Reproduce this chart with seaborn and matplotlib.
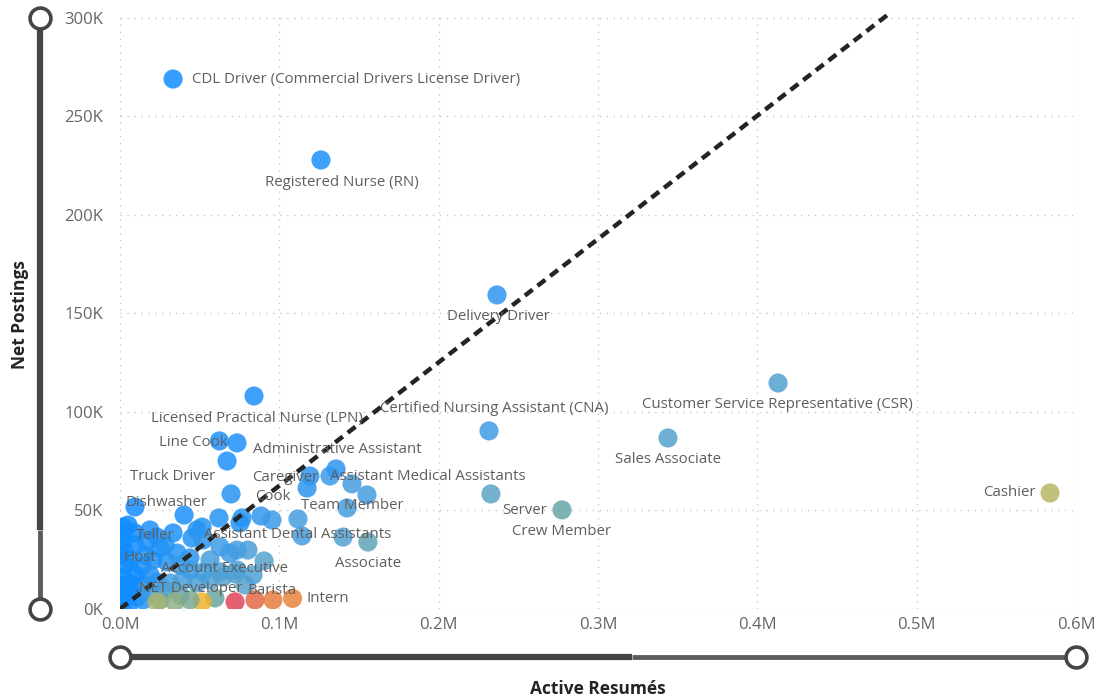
"""
Net postings vs active resumes per job title (Power BI style scatter).
"""
import numpy as np
import pandas as pd
import matplotlib.pyplot as plt
import seaborn as sns
from matplotlib.colors import LinearSegmentedColormap
from matplotlib.lines import Line2D
from matplotlib.ticker import FuncFormatter, MultipleLocator

# ---- labelled job titles (values in thousands) ----
titles = [
    "CDL Driver (Commercial Drivers License Driver)", "Registered Nurse (RN)",
    "Delivery Driver", "Customer Service Representative (CSR)",
    "Certified Nursing Assistant (CNA)", "Sales Associate", "Server",
    "Crew Member", "Cashier", "Licensed Practical Nurse (LPN)", "Line Cook",
    "Administrative Assistant", "Truck Driver", "Caregiver",
    "Assistant Medical Assistants", "Cook", "Team Member", "Dishwasher",
    "Teller", "Assistant Dental Assistants", "Associate", "Host",
    "Account Executive", ".NET Developer", "Barista", "Intern",
]
title_resumes_k = [
    33.3, 126.1, 236.6, 413.0, 231.6, 343.9, 232.8, 277.4, 583.7, 84.1, 73.4,
    135.6, 69.7, 119.2, 145.6, 117.4, 142.5, 9.4, 16.9, 114.2, 155.6, 1.9,
    83.5, 43.9, 96.0, 108.3,
]
title_postings_k = [
    269.0, 227.9, 159.4, 114.7, 90.4, 86.8, 58.4, 50.3, 58.9, 108.1, 84.3,
    71.1, 58.4, 67.5, 63.5, 61.4, 51.3, 51.8, 34.0, 37.1, 34.0, 29.9, 17.3,
    4.6, 4.6, 5.4,
]
title_score = [
    1.0, 0.97, 0.93, 0.77, 0.88, 0.76, 0.72, 0.62, 0.45, 0.97, 0.97, 0.93,
    0.95, 0.93, 0.85, 0.93, 0.85, 1.0, 0.97, 0.85, 0.68, 1.0, 0.8, 0.56,
    0.15, 0.17,
]

# ---- other (unlabelled) job titles ----
other_resumes_k = [
    62.4, 67.2, 131.8, 155.0, 40.2, 62.1, 76.6, 88.5, 95.4, 111.7, 51.5,
    140.0, 80.3, 90.4, 72.2, 75.3, 73.4, 73.4,
    1.9, 5.0, 1.9, 9.4, 23.2, 33.3, 48.3, 45.2, 52.1, 62.8, 69.0, 35.8, 43.9,
    29.5, 20.7, 13.8, 6.3, 1.9, 6.3, 14.4, 23.2, 31.4, 39.5, 48.3, 56.5,
    64.6, 52.1, 62.8, 43.9, 1.9, 10.7, 14.4, 1.9, 3.1, 9.4, 1.9, 5.0, 25.1,
    18.8, 28.2, 37.7, 0.4, 0.4, 1.3,
    5.0, 9.4, 15.7, 18.8, 28.2, 37.7, 25.1, 18.8, 56.5, 78.5, 59.6,
    23.2, 34.5, 51.5, 72.2, 84.7,
]
other_postings_k = [
    85.3, 75.1, 67.5, 57.9, 47.7, 46.2, 46.2, 47.2, 45.2, 45.7, 41.6, 36.5,
    29.9, 24.4, 17.8, 43.7, 29.9, 19.8,
    41.6, 42.6, 39.1, 38.6, 36.5, 38.6, 40.1, 36.0, 35.0, 31.5, 28.4, 28.4,
    25.9, 23.9, 24.9, 21.3, 24.9, 16.2, 13.2, 12.2, 13.7, 13.2, 14.7, 13.2,
    14.7, 16.2, 18.8, 18.8, 19.8, 4.6, 6.1, 4.6, 9.6, 22.3, 32.5, 35.0, 1.0,
    31.0, 17.3, 9.6, 7.1, 27.4, 12.2, 2.0,
    9.6, 17.3, 27.4, 40.1, 32.5, 22.3, 4.6, 8.6, 24.9, 12.2, 5.6,
    3.6, 3.6, 3.6, 3.6, 4.6,
]
other_score = [
    0.97, 0.97, 0.9, 0.85, 0.97, 0.95, 0.95, 0.92, 0.9, 0.85, 0.95, 0.78,
    0.82, 0.75, 0.8, 0.95, 0.85, 0.8,
    1.0, 1.0, 1.0, 1.0, 0.97, 0.97, 0.95, 0.95, 0.93, 0.9, 0.88, 0.95, 0.93,
    0.95, 0.97, 0.97, 1.0, 1.0, 1.0, 0.97, 0.9, 0.85, 0.82, 0.8, 0.78, 0.75,
    0.85, 0.8, 0.88, 1.0, 1.0, 0.95, 1.0, 1.0, 1.0, 1.0, 1.0, 0.97, 0.95,
    0.8, 0.7, 1.0, 1.0, 1.0,
    1.0, 1.0, 0.97, 0.97, 0.95, 0.9, 0.7, 0.9, 0.85, 0.75, 0.6,
    0.47, 0.52, 0.3, 0.0, 0.1,
]

# dashed reference line: postings per active resume
ref_ratio = 0.626

# label placement (offset in pixels from the point, horizontal alignment)
label_layout = {
    "CDL Driver (Commercial Drivers License Driver)": (19, 0, "left"),
    "Registered Nurse (RN)": (21, -23, "center"),
    "Delivery Driver": (1, -22, "center"),
    "Customer Service Representative (CSR)": (-1, -21, "center"),
    "Certified Nursing Assistant (CNA)": (5, 22, "center"),
    "Sales Associate": (0, -22, "center"),
    "Server": (34, -17, "center"),
    "Crew Member": (0, -22, "center"),
    "Cashier": (-14, 0, "right"),
    "Licensed Practical Nurse (LPN)": (3, -22, "center"),
    "Line Cook": (-9, 0, "right"),
    "Administrative Assistant": (1, 19, "center"),
    "Truck Driver": (-58, 17, "center"),
    "Caregiver": (-25, -1, "center"),
    "Assistant Medical Assistants": (76, 7, "center"),
    "Cook": (-34, -8, "center"),
    "Team Member": (5, 2, "center"),
    "Dishwasher": (32, 4, "center"),
    "Teller": (8, 7, "center"),
    "Assistant Dental Assistants": (-4, 1, "center"),
    "Associate": (0, -21, "center"),
    "Host": (17, -7, "center"),
    "Account Executive": (-29, 6, "center"),
    ".NET Developer": (-1, 11, "center"),
    "Barista": (-1, 9, "center"),
    "Intern": (14, 0, "left"),
}

W, H = 1097, 699
FONT = ["Open Sans", "DejaVu Sans"]
TEXT_GREY = "#605E5C"


def fx(px):
    return px / W


def fy(py):
    return 1 - py / H


def build_frame():
    df_lab = pd.DataFrame({
        "title": titles,
        "resumes": np.array(title_resumes_k) * 1000,
        "postings": np.array(title_postings_k) * 1000,
        "score": title_score,
    })
    df_oth = pd.DataFrame({
        "title": "",
        "resumes": np.array(other_resumes_k) * 1000,
        "postings": np.array(other_postings_k) * 1000,
        "score": other_score,
    })
    return pd.concat([df_oth, df_lab], ignore_index=True)


def draw_slider(fig, p0, p1, split, dark_lw=4.5, light_lw=3.5):
    """Power BI style zoom slider drawn in figure pixels."""
    (x0, y0), (x1, y1) = p0, p1
    sx, sy = split
    fig.add_artist(Line2D([fx(x0), fx(sx)], [fy(y0), fy(sy)],
                          color="#454545", lw=dark_lw,
                          transform=fig.transFigure, solid_capstyle="butt"))
    fig.add_artist(Line2D([fx(sx), fx(x1)], [fy(sy), fy(y1)],
                          color="#5c5c5c", lw=light_lw,
                          transform=fig.transFigure, solid_capstyle="butt"))
    for (px, py) in (p0, p1):
        fig.add_artist(Line2D([fx(px)], [fy(py)], marker="o", ms=15,
                              mfc="white", mec="#454545", mew=2.6,
                              transform=fig.transFigure))


def plot_scatter(save_path="out.png"):
    df = build_frame()

    sns.set_style("white")
    plt.rcParams["font.family"] = FONT

    cmap = LinearSegmentedColormap.from_list("pbi", [
        (0.00, "#E0455A"), (0.10, "#E56A48"), (0.18, "#E8893A"),
        (0.30, "#F0B429"), (0.45, "#B6B765"), (0.60, "#6AA6A0"),
        (0.75, "#57A3CC"), (0.90, "#3C9BE8"), (1.00, "#118DFF"),
    ])

    fig = plt.figure(figsize=(W / 100, H / 100), dpi=100)
    ax = fig.add_axes([fx(120), 1 - 609 / H, (1076 - 120) / W, (609 - 14) / H])

    sns.scatterplot(data=df, x="resumes", y="postings", hue="score",
                    palette=cmap, hue_norm=(0, 1), s=190, alpha=0.85,
                    linewidth=0, legend=False, ax=ax, zorder=3)

    ax.axline((0, 0), slope=ref_ratio, color="#252423", lw=3.2,
              linestyle=(0, (2.2, 1.4)), zorder=4)

    for _, row in df[df["title"] != ""].iterrows():
        dx, dy, ha = label_layout[row["title"]]
        ax.annotate(row["title"], (row["resumes"], row["postings"]),
                    xytext=(dx, dy), textcoords="offset pixels",
                    ha=ha, va="center", fontsize=10.8, color=TEXT_GREY,
                    zorder=5)

    ax.set_xlim(0, 600000)
    ax.set_ylim(0, 302000)
    ax.xaxis.set_major_locator(MultipleLocator(100000))
    ax.yaxis.set_major_locator(MultipleLocator(50000))
    ax.xaxis.set_major_formatter(FuncFormatter(lambda v, p: f"{v / 1e6:.1f}M"))
    ax.yaxis.set_major_formatter(FuncFormatter(lambda v, p: f"{v / 1e3:.0f}K"))
    ax.tick_params(length=0, labelsize=12, labelcolor="#666666")
    ax.tick_params(axis="y", pad=12)
    ax.tick_params(axis="x", pad=6)
    ax.grid(True, color="#c8c8c8", lw=1, linestyle=(0, (1, 4)))
    ax.set_axisbelow(True)
    sns.despine(ax=ax, left=True, bottom=True)
    ax.set_xlabel("")
    ax.set_ylabel("")

    fig.text(fx(598), fy(689), "Active Resumés", ha="center", va="center",
             fontsize=12.5, fontweight="bold", color="#252423")
    fig.text(fx(20), fy(315), "Net Postings", ha="center", va="center",
             rotation=90, fontsize=12.5, fontweight="bold", color="#252423")

    draw_slider(fig, (40, 18), (40, 609), (40, 530))
    draw_slider(fig, (120, 657), (1076, 657), (632, 657))

    plt.savefig(save_path, dpi=100)
    plt.close(fig)


if __name__ == "__main__":
    plot_scatter()
